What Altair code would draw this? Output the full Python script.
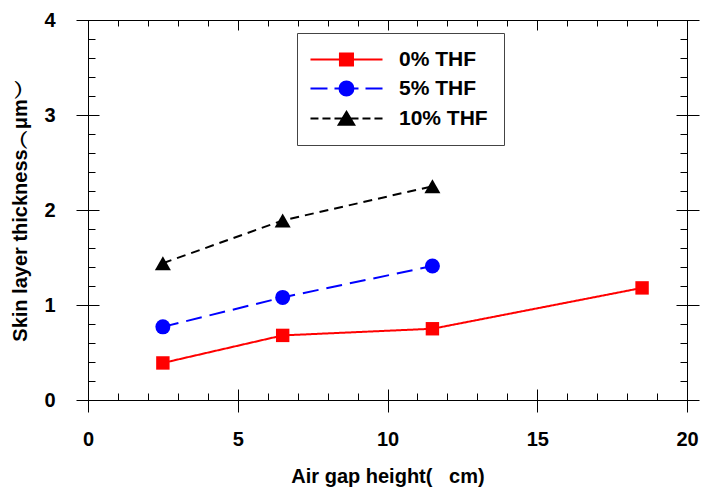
import altair as alt
import pandas as pd

series = ["0% THF", "5% THF", "10% THF"]
x_thf0 = [2.5, 6.5, 11.5, 18.5]
y_thf0 = [0.39, 0.68, 0.75, 1.18]
x_thf5 = [2.5, 6.5, 11.5]
y_thf5 = [0.77, 1.08, 1.41]
x_thf10 = [2.5, 6.5, 11.5]
y_thf10 = [1.44, 1.89, 2.25]

colors = ["#ff0000", "#0000ff", "#000000"]
dashes = [[1, 0], [16, 8], [9, 6]]
shapes = ["square", "circle", "triangle-up"]
sizes = [180, 225, 256]

x_major = [0, 5, 10, 15, 20]
x_minor = [0, 1, 2, 3, 4, 5, 6, 7, 8, 9, 10, 11, 12, 13, 14, 15, 16, 17, 18, 19, 20]
y_major = [0, 1, 2, 3, 4]
y_minor = [0, 0.2, 0.4, 0.6, 0.8, 1, 1.2, 1.4, 1.6, 1.8, 2, 2.2, 2.4, 2.6, 2.8,
           3, 3.2, 3.4, 3.6, 3.8, 4]

x_title = "Air gap height(\u00a0\u00a0\u00a0cm)"
y_title = "Skin layer thickness\ufe35\u03bcm\ufe36"

# legend symbols: line (with dashes) + marker, in symbol units (1 unit = 7 px)
legend_paths = [
    "M-1.86,0H8.43 M2.35,-0.86H4.21V0.86H2.35Z",
    "M-1.86,0H0.57 M1.57,0H5.0 M6.0,0H8.43 M2.28,0A1,1 0 1,0 4.28,0A1,1 0 1,0 2.28,0Z",
    "M-1.86,0H-0.72 M-0.15,0H1.0 M1.57,0H5.0 M5.57,0H6.71 M7.28,0H8.43 M3.28,-0.95L4.39,0.9L2.17,0.9Z",
]

rows = []
for name, xs, ys in [(series[0], x_thf0, y_thf0), (series[1], x_thf5, y_thf5), (series[2], x_thf10, y_thf10)]:
    for a, b in zip(xs, ys):
        rows.append({"series": name, "x": a, "y": b})
df = pd.DataFrame(rows)

FONT = "Liberation Sans"
xscale = alt.Scale(domain=[0, 20], nice=False, zero=False)
yscale = alt.Scale(domain=[0, 4], nice=False, zero=False)


def blank_axis(orient, values, size, offset, domain=False):
    return alt.Axis(orient=orient, values=values, tickSize=size, offset=offset,
                    ticks=size > 0, domain=domain, domainColor="black", domainWidth=1,
                    labels=False, grid=False, title=None, tickColor="black", tickWidth=1)


def axis_layer(xax, yax):
    return alt.Chart(df).mark_point(opacity=0).encode(
        x=alt.X("x:Q", scale=xscale, axis=xax),
        y=alt.Y("y:Q", scale=yscale, axis=yax),
    )


def legend_def():
    return alt.Legend(
        title=None, orient="none", legendX=209, legendY=13, padding=16,
        strokeColor="#444444", fillColor="white", symbolSize=196, symbolStrokeWidth=2,
        symbolOpacity=1, labelOffset=65, labelFont=FONT, labelFontSize=21,
        labelFontWeight="bold", labelColor="black", rowPadding=7)


main_x = alt.Axis(
    orient="bottom", values=x_major, ticks=False, tickSize=0, domain=True,
    domainColor="black", domainWidth=1, labelPadding=29, labelFont=FONT,
    labelFontSize=20, labelFontWeight="bold", labelColor="black", labelFlush=False,
    labelOverlap=False, grid=False, format="d", title=x_title, titleFont=FONT,
    titleFontSize=20, titleFontWeight="bold", titleColor="black", titlePadding=17)
main_y = alt.Axis(
    orient="left", values=y_major, ticks=False, tickSize=0, domain=True,
    domainColor="black", domainWidth=1, labelPadding=33, labelFont=FONT,
    labelFontSize=20, labelFontWeight="bold", labelColor="black", labelFlush=False,
    labelOverlap=False, grid=False, format="d", title=y_title, titleFont=FONT,
    titleFontSize=20, titleFontWeight="bold", titleColor="black", titlePadding=13)

frame_axes = axis_layer(main_x, main_y)

series_layers = []
for i, s in enumerate(series):
    base = alt.Chart(df).transform_filter(alt.datum.series == s)
    series_layers.append(
        base.mark_line(strokeWidth=2, color=colors[i], strokeDash=dashes[i]).encode(
            x=alt.X("x:Q", scale=xscale, axis=None),
            y=alt.Y("y:Q", scale=yscale, axis=None),
        )
    )
    series_layers.append(
        base.mark_point(filled=True, opacity=1, shape=shapes[i], size=sizes[i], color=colors[i]).encode(
            x=alt.X("x:Q", scale=xscale, axis=None),
            y=alt.Y("y:Q", scale=yscale, axis=None),
        )
    )

major1 = axis_layer(blank_axis("bottom", x_major, 23, -11), blank_axis("left", y_major, 23, -11))
minor1 = axis_layer(blank_axis("bottom", x_minor, 7, -7), blank_axis("left", y_minor, 7, -7))
frame = axis_layer(blank_axis("top", x_major, 0, 0, domain=True), blank_axis("right", y_major, 0, 0, domain=True))
major2 = axis_layer(blank_axis("top", x_major, 10, -10), blank_axis("right", y_major, 23, -11))
minor2 = axis_layer(blank_axis("top", x_minor, 6, -6), blank_axis("right", y_minor, 7, -7))

legend_layer = alt.Chart(pd.DataFrame({"series": series})).mark_point(
    filled=True, size=0).encode(
    fill=alt.Fill("series:N", scale=alt.Scale(domain=series, range=colors), legend=legend_def()),
    stroke=alt.Stroke("series:N", scale=alt.Scale(domain=series, range=colors), legend=legend_def()),
    shape=alt.Shape("series:N", scale=alt.Scale(domain=series, range=legend_paths), legend=legend_def()),
)

chart = alt.layer(frame_axes, major1, minor1, frame, major2, minor2, *series_layers, legend_layer).resolve_axis(
    x="independent", y="independent"
).properties(
    width=599, height=380,
    autosize=alt.AutoSizeParams(type="none"),
    padding={"left": 88, "top": 20, "right": 16, "bottom": 90},
    background="white",
).configure_view(stroke=None).configure_legend(
    orient="none", legendX=209, legendY=13
)

chart.save("out.html", embed_options={"renderer": "svg", "actions": False})
